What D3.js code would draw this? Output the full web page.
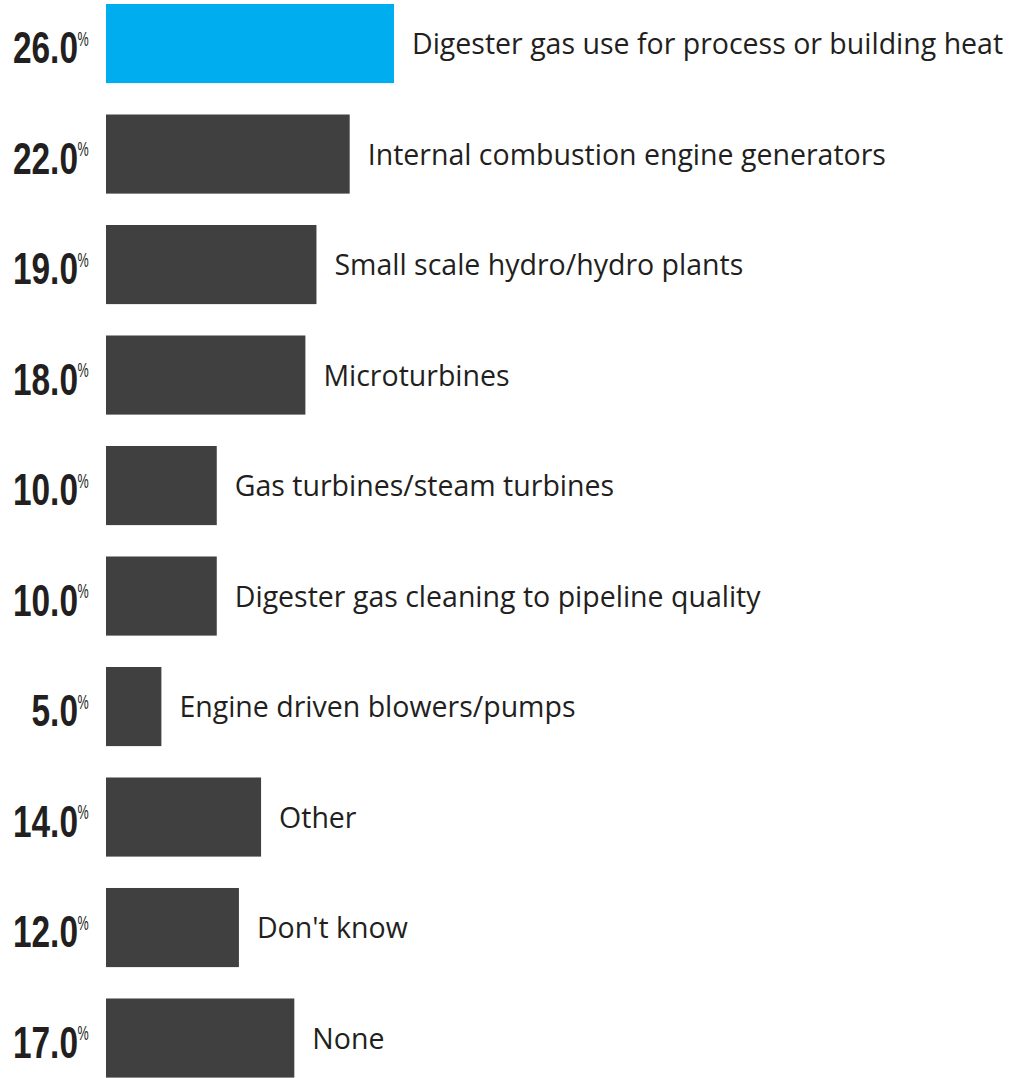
<!DOCTYPE html>
<html><head><meta charset="utf-8">
<script src="https://cdn.jsdelivr.net/npm/d3@7"></script>
<style>body{margin:0;background:#fff}svg{display:block}</style>
</head><body>
<svg id="chart" width="1020" height="1078"></svg>
<script>
const categories = ["Digester gas use for process or building heat","Internal combustion engine generators","Small scale hydro/hydro plants","Microturbines","Gas turbines/steam turbines","Digester gas cleaning to pipeline quality","Engine driven blowers/pumps","Other","Don't know","None"];
const values = [26,22,19,18,10,10,5,14,12,17];
const highlight = [true,false,false,false,false,false,false,false,false,false];

const svg = d3.select("#chart");
const x = d3.scaleLinear().domain([0,26]).range([106,394]);
const y = d3.scaleBand().domain(categories).range([4,1077.6]).paddingInner(0.284).paddingOuter(0);
const cy = d => y(d) + y.bandwidth()/2;

const g = svg.selectAll("g.row").data(categories).enter().append("g").attr("class","row");
g.append("rect")
  .attr("x", x(0))
  .attr("y", d=>y(d))
  .attr("width", (d,i)=>x(values[i])-x(0))
  .attr("height", y.bandwidth())
  .attr("fill", (d,i)=>highlight[i] ? "#00aeef" : "#404040");

g.append("text")
  .attr("x", (d,i)=>x(values[i])+18)
  .attr("y", d=>cy(d)+10.5)
  .attr("font-family","'Open Sans', sans-serif")
  .attr("font-size",28.5)
  .attr("fill","#231f20")
  .text(d=>d);

// value labels: condensed bold number + superscript %
g.append("g")
  .attr("transform", d=>`translate(78,${cy(d)+19.5}) scale(0.76,1)`)
  .append("text")
  .attr("text-anchor","end")
  .attr("font-family","'Liberation Sans', Arial, sans-serif")
  .attr("font-weight","bold")
  .attr("font-size",44)
  .attr("fill","#231f20")
  .text((d,i)=>d3.format(".1f")(values[i]));
g.append("g")
  .attr("transform", d=>`translate(77.5,${cy(d)+2}) scale(0.6,1)`)
  .append("text")
  .attr("font-family","'Liberation Sans', Arial, sans-serif")
  .attr("font-size",21)
  .attr("fill","#231f20")
  .text("%");
</script>
</body></html>
